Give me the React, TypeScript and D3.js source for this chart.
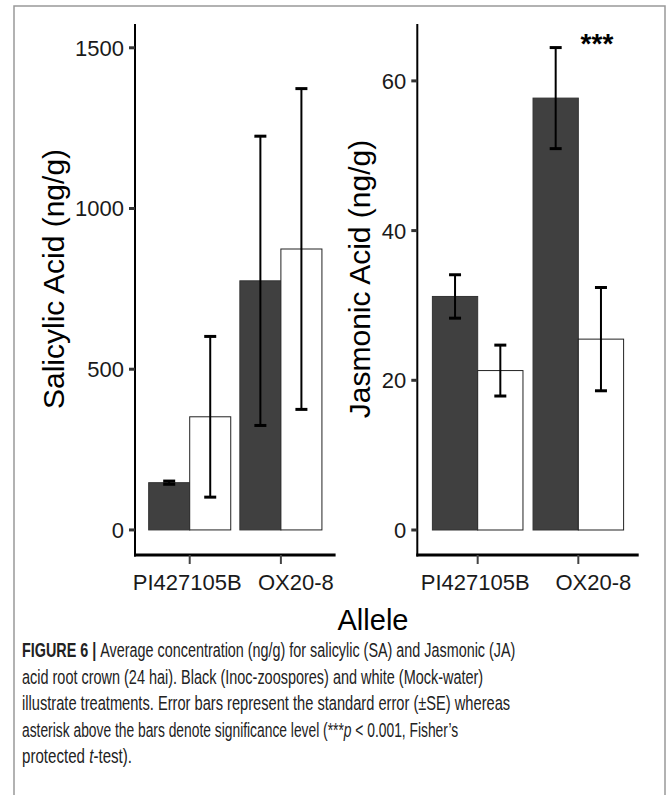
import React, { useLayoutEffect, useRef, useState } from "react";
import * as d3 from "d3";

const alleles = ["PI427105B", "OX20-8"];
const treatments = ["Inoc-zoospores", "Mock-water"];
const saInoc = [147, 775];
const saInocSE = [5, 450];
const saMock = [352, 874];
const saMockSE = [250, 499];
const jaInoc = [31.2, 57.7];
const jaInocSE = [2.9, 6.75];
const jaMock = [21.3, 25.5];
const jaMockSE = [3.4, 6.9];
const saTicks = [0, 500, 1000, 1500];
const jaTicks = [0, 20, 40, 60];
const captionLines = [
  "Average concentration (ng/g) for salicylic (SA) and Jasmonic (JA)",
  "acid root crown (24 hai). Black (Inoc-zoospores) and white (Mock-water)",
  "illustrate treatments. Error bars represent the standard error (\u00B1SE) whereas",
  "asterisk above the bars denote significance level (***",
  "protected ",
];

const FONT = "Liberation Sans, Arial, Helvetica, sans-serif";
const fills = ["#404040", "#ffffff"];
const labelShift = [-2.5, 15];

type PanelProps = {
  x0: number;
  x1: number;
  domain: [number, number];
  ticks: number[];
  inoc: number[];
  inocSE: number[];
  mock: number[];
  mockSE: number[];
  title: string;
  titleX: number;
  star?: boolean;
};

function Panel(p: PanelProps) {
  const top = 24;
  const bottom = 555;
  const y = d3.scaleLinear().domain(p.domain).range([bottom, top]);
  const x = d3.scalePoint<string>().domain(alleles).range([p.x0, p.x1]).padding(0.6);
  const step = x.step();
  const bw = step * 0.45;
  const series = [
    { vals: p.inoc, se: p.inocSE, off: -bw },
    { vals: p.mock, se: p.mockSE, off: 0 },
  ];
  return (
    <g>
      {series.map((s, si) =>
        alleles.map((a, i) => (
          <rect
            key={`b${si}${i}`}
            x={(x(a) as number) + s.off}
            y={y(s.vals[i])}
            width={bw}
            height={y(0) - y(s.vals[i])}
            fill={fills[si]}
            stroke={si === 0 ? "#333" : "#222"}
            strokeWidth={1}
          />
        ))
      )}
      {series.map((s, si) =>
        alleles.map((a, i) => {
          const cx = (x(a) as number) + s.off + bw / 2;
          const hi = y(s.vals[i] + s.se[i]);
          const lo = y(s.vals[i] - s.se[i]);
          return (
            <g key={`e${si}${i}`}>
              <line x1={cx} x2={cx} y1={hi} y2={lo} stroke="#000" strokeWidth={2} />
              <line x1={cx - 6} x2={cx + 6} y1={hi} y2={hi} stroke="#000" strokeWidth={3} />
              <line x1={cx - 6} x2={cx + 6} y1={lo} y2={lo} stroke="#000" strokeWidth={3} />
            </g>
          );
        })
      )}
      <line x1={p.x0} x2={p.x0} y1={top} y2={bottom + 1.5} stroke="#000" strokeWidth={2} />
      <line x1={p.x0 - 1} x2={p.x1} y1={bottom} y2={bottom} stroke="#000" strokeWidth={3} />
      {p.ticks.map((t) => (
        <g key={`yt${t}`}>
          <line x1={p.x0 - 6} x2={p.x0} y1={y(t)} y2={y(t)} stroke="#333" strokeWidth={3} />
          <text
            x={p.x0 - 11}
            y={y(t)}
            dy="0.36em"
            textAnchor="end"
            fontSize={22}
            fontFamily={FONT}
            fill="#1a1a1a"
          >
            {t}
          </text>
        </g>
      ))}
      {alleles.map((a, i) => (
        <g key={`xt${a}`}>
          <line x1={x(a)} x2={x(a)} y1={bottom} y2={bottom + 9} stroke="#444" strokeWidth={2} />
          <text
            x={(x(a) as number) + labelShift[i]}
            y={590}
            textAnchor="middle"
            fontSize={22}
            fontFamily={FONT}
            fill="#1a1a1a"
          >
            {a}
          </text>
        </g>
      ))}
      <text
        transform={`translate(${p.titleX},279) rotate(-90)`}
        textAnchor="middle"
        fontSize={30}
        fontFamily={FONT}
        fill="#000"
      >
        {p.title}
      </text>
      {p.star && (
        <text
          x={(x(alleles[1]) as number) + bw / 2 - 4}
          y={53}
          textAnchor="middle"
          fontSize={28}
          fontWeight="bold"
          fontFamily={FONT}
          fill="#000"
        >
          ***
        </text>
      )}
    </g>
  );
}

export default function App() {
  const capFont = "Liberation Sans Narrow, Arial Narrow, Liberation Sans, sans-serif";
  const capY = [657, 683.5, 710, 736.5, 763];
  const capW = [493, 461, 488, 436, 110];
  const refs = useRef<(SVGTextElement | null)[]>([]);
  const [scales, setScales] = useState<number[]>([0.85, 0.85, 0.85, 0.85, 0.85]);
  useLayoutEffect(() => {
    const s = capW.map((w, i) => {
      const el = refs.current[i];
      const len = el ? el.getComputedTextLength() : 0;
      return len > 0 ? w / len : 0.85;
    });
    setScales(s);
  }, []);
  const lineProps = (i: number) => ({
    ref: (el: SVGTextElement | null) => {
      refs.current[i] = el;
    },
    x: 0,
    y: 0,
    transform: `translate(22,${capY[i]}) scale(${scales[i]},1)`,
  });
  return (
    <svg
      width={669}
      height={795}
      style={{ position: "absolute", left: 0, top: 0, background: "#fff" }}
    >
      <rect x={14} y={6} width={651} height={800} fill="#fff" stroke="#999" strokeWidth={1.5} />
      <Panel
        x0={135}
        x1={335.6}
        domain={[-78, 1574]}
        ticks={saTicks}
        inoc={saInoc}
        inocSE={saInocSE}
        mock={saMock}
        mockSE={saMockSE}
        title="Salicylic Acid (ng/g)"
        titleX={64}
      />
      <Panel
        x0={417.3}
        x1={638.7}
        domain={[-3.34, 67.6]}
        ticks={jaTicks}
        inoc={jaInoc}
        inocSE={jaInocSE}
        mock={jaMock}
        mockSE={jaMockSE}
        title="Jasmonic Acid (ng/g)"
        titleX={370}
        star
      />
      <text x={373} y={630} textAnchor="middle" fontSize={29} fontFamily={FONT} fill="#000">
        Allele
      </text>
      <g fontFamily={capFont} fontSize={19.5} fill="#222">
        <text {...lineProps(0)}>
          <tspan fontWeight="bold">FIGURE 6 | </tspan>
          {captionLines[0]}
        </text>
        <text {...lineProps(1)}>{captionLines[1]}</text>
        <text {...lineProps(2)}>{captionLines[2]}</text>
        <text {...lineProps(3)}>
          {captionLines[3]}
          <tspan fontStyle="italic">p</tspan>
          {" < 0.001, Fisher\u2019s"}
        </text>
        <text {...lineProps(4)}>
          {captionLines[4]}
          <tspan fontStyle="italic">t</tspan>
          {"-test)."}
        </text>
      </g>
      <text x={0} y={0} fontSize={1} fill="none">
        {treatments.join(",")}
      </text>
    </svg>
  );
}
